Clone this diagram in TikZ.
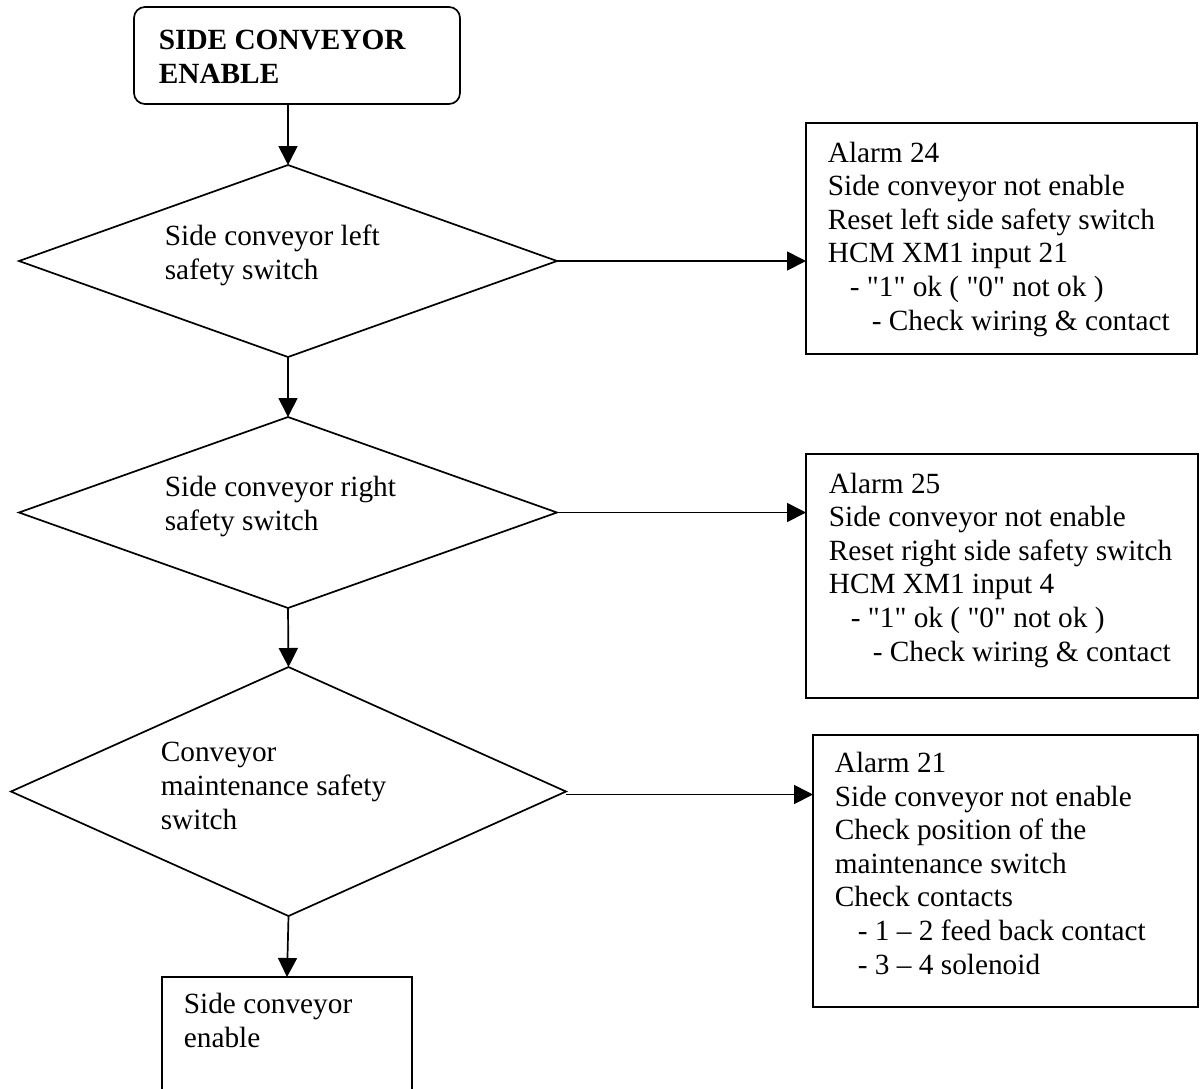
\documentclass[tikz,border=0pt]{standalone}
\usepackage{fontspec}
\setmainfont{Liberation Serif}
\usetikzlibrary{shapes.geometric,arrows.meta}
\begin{document}
\begin{tikzpicture}[x=1pt,y=-1pt,
  line width=1.7pt,
  txt/.style={font=\fontsize{29.3}{33.6}\selectfont, inner sep=0pt, anchor=base west, align=left},
  box/.style={draw, rectangle, inner sep=0pt, outer sep=0pt},
  dia/.style={draw, diamond, inner sep=0pt, outer sep=0pt},
  arr/.style={-{Triangle[length=19pt,width=19pt]}, line width=1.7pt}]
\useasboundingbox (0,0) rectangle (1204,1088);
\clip (0,0) rectangle (1204,1088);

% shapes
\node[box, rounded corners=11pt, minimum width=326pt, minimum height=97pt] (start) at (297,55.5) {};
\node[dia, minimum width=538pt, minimum height=192pt] (d1) at (288,261) {};
\node[dia, minimum width=538pt, minimum height=191pt] (d2) at (288,512.5) {};
\node[dia, minimum width=555pt, minimum height=249pt] (d3) at (288.5,791.5) {};
\node[box, minimum width=391pt, minimum height=231pt] (a24) at (1001.5,238.5) {};
\node[box, minimum width=392pt, minimum height=244pt] (a25) at (1002,576) {};
\node[box, minimum width=385pt, minimum height=272pt] (a21) at (1005.5,871) {};
\node[box, minimum width=250pt, minimum height=160pt] (end) at (287,1057) {};

% texts (anchored at the baseline of their last line)
\node[txt, font=\fontsize{29.3}{34}\selectfont\bfseries] (tstart) at (158,83) {SIDE CONVEYOR\\ENABLE};
\node[txt] (t1) at (164,279) {Side conveyor left\\safety switch};
\node[txt] (t2) at (164,530) {Side conveyor right\\safety switch};
\node[txt] (t3) at (160,829) {Conveyor\\maintenance safety\\switch};
\node[txt] (tend) at (183,1047) {Side conveyor\\enable};
\node[txt] (t24) at (827,330) {Alarm 24\\Side conveyor not enable\\Reset left side safety switch\\HCM XM1 input 21\\\hspace*{22pt}- \textquotedbl 1\textquotedbl{} ok ( \textquotedbl 0\textquotedbl{} not ok )\\\hspace*{44pt}- Check wiring \& contact};
\node[txt] (t25) at (828,661) {Alarm 25\\Side conveyor not enable\\Reset right side safety switch\\HCM XM1 input 4\\\hspace*{22pt}- \textquotedbl 1\textquotedbl{} ok ( \textquotedbl 0\textquotedbl{} not ok )\\\hspace*{44pt}- Check wiring \& contact};
\node[txt] (t21) at (834,974) {Alarm 21\\Side conveyor not enable\\Check position of the\\maintenance switch\\Check contacts\\\hspace*{23pt}- 1 \textendash{} 2 feed back contact\\\hspace*{23pt}- 3 \textendash{} 4 solenoid};

% connectors
\draw[arr] (start.south -| d1.north) -- (d1.north);
\draw[arr] (d1.south) -- (d2.north);
\draw[arr] (d2.south) -- (d3.north);
\draw[arr] (d3.south) -- (end.north);
\draw[arr] (d1.east) -- (d1.east -| a24.west);
\draw[arr] (d2.east) -- (d2.east -| a25.west);
\draw[arr] ([yshift=-3pt]d3.east) -- ([yshift=-3pt]d3.east -| a21.west);
\end{tikzpicture}
\end{document}
